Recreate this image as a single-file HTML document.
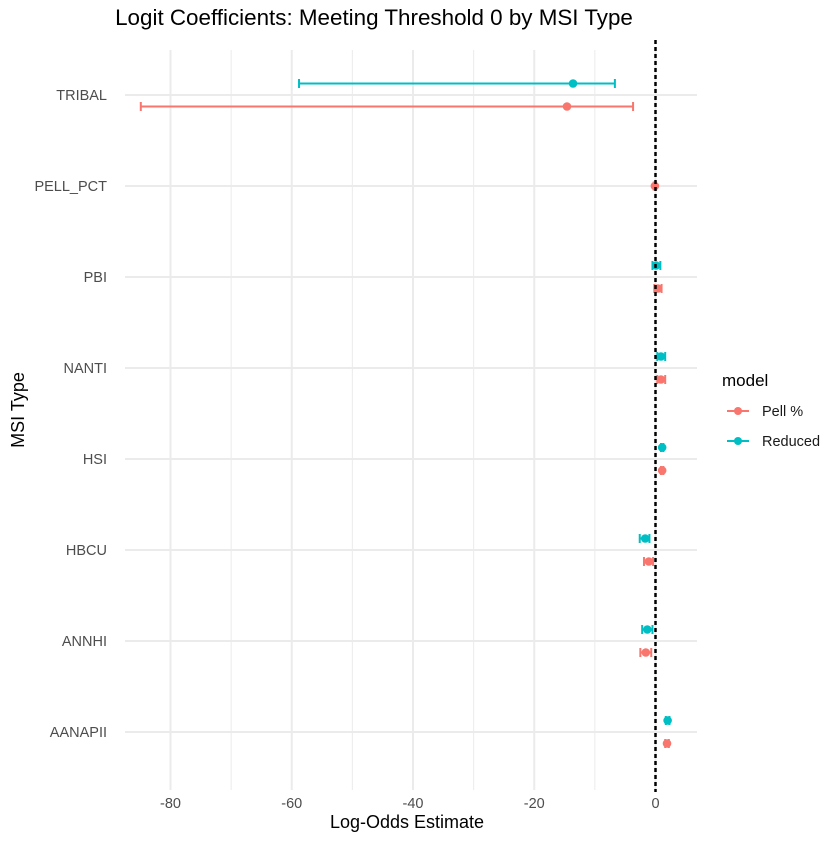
<!DOCTYPE html>
<html><head><meta charset="utf-8"><style>body{margin:0;background:#fff}svg{font-family:"Liberation Sans",sans-serif}</style></head>
<body>
<svg id="c" width="840" height="840">
<rect width="840" height="840" fill="#fff"/>
<g id="grid"></g><g id="marks"></g><g id="axes"></g>
<text x="374" y="25" font-size="22.4" text-anchor="middle" fill="#000">Logit Coefficients: Meeting Threshold 0 by MSI Type</text>
<text x="407" y="828" font-size="18" text-anchor="middle" fill="#000">Log-Odds Estimate</text>
<text transform="translate(24,410) rotate(-90)" font-size="18" text-anchor="middle" fill="#000">MSI Type</text>
<g>
<text x="722" y="386" font-size="17" fill="#000">model</text>
<g><line x1="727" x2="749" y1="411" y2="411" stroke="#F8766D" stroke-width="2"/><circle cx="738" cy="411" r="4" fill="#F8766D"/><text x="762" y="416" font-size="14.5" fill="#1a1a1a">Pell %</text></g>
<g><line x1="727" x2="749" y1="441" y2="441" stroke="#00BFC4" stroke-width="2"/><circle cx="738" cy="441" r="4" fill="#00BFC4"/><text x="762" y="446" font-size="14.5" fill="#1a1a1a">Reduced</text></g>
</g>
</svg>
<script>
const categories=["TRIBAL","PELL_PCT","PBI","NANTI","HSI","HBCU","ANNHI","AANAPII"];
const pellEst=[-14.6,-0.1,0.4,0.9,1.1,-1.1,-1.6,1.9];
const pellLo=[-84.9,-0.3,-0.2,0.3,0.9,-1.9,-2.5,1.6];
const pellHi=[-3.7,0.1,1.0,1.6,1.3,-0.4,-0.7,2.2];
const redEst=[-13.6,null,0.1,0.9,1.1,-1.7,-1.35,2.0];
const redLo=[-58.8,null,-0.5,0.3,0.9,-2.6,-2.2,1.7];
const redHi=[-6.7,null,0.8,1.6,1.3,-1.0,-0.5,2.3];
const xTicks=[-80,-60,-40,-20,0];
const xMinor=[-70,-50,-30,-10];
const NS="http://www.w3.org/2000/svg";
const X=v=>655.5+v*6.0625;
const Y=i=>95+i*91;
const L=125,R=697,T=50,B=790;
function mk(t,a,p){const e=document.createElementNS(NS,t);for(const k in a)e.setAttribute(k,a[k]);p.appendChild(e);return e;}
const g=document.getElementById('grid'),m=document.getElementById('marks'),ax=document.getElementById('axes');
xMinor.forEach(v=>{const l=mk('line',{x1:X(v),x2:X(v),y1:T,y2:B,stroke:'#ebebeb','stroke-width':1},g);

});
xTicks.forEach(v=>{const l=mk('line',{x1:X(v),x2:X(v),y1:T,y2:B,stroke:'#ebebeb','stroke-width':2},g);


const t=mk('text',{x:X(v),y:808,'font-size':14.5,'text-anchor':'middle',fill:'#4d4d4d'},ax);t.textContent=v;

});
categories.forEach((c,i)=>{const l=mk('line',{x1:L,x2:R,y1:Y(i),y2:Y(i),stroke:'#ebebeb','stroke-width':2},g);


const t=mk('text',{x:107,y:Y(i)+5,'font-size':14.5,'text-anchor':'end',fill:'#4d4d4d'},ax);t.textContent=c;

});
function series(est,lo,hi,col,name,off){est.forEach((v,i)=>{if(v===null)return;
const y=Y(i)+(redEst[i]===null?0:off);
const gr=mk('g',{},m);


mk('line',{x1:X(lo[i]),x2:X(hi[i]),y1:y,y2:y,stroke:col,'stroke-width':2},gr);
[lo[i],hi[i]].forEach(e=>mk('line',{x1:X(e),x2:X(e),y1:y-4.5,y2:y+4.5,stroke:col,'stroke-width':2},gr));
mk('circle',{cx:X(v),cy:y,r:4.3,fill:col},gr);});}
series(pellEst,pellLo,pellHi,'#F8766D','pell-point',11.5);
series(redEst,redLo,redHi,'#00BFC4','reduced-point',-11.5);
const z=mk('line',{x1:X(0),x2:X(0),y1:T-10,y2:B+2,stroke:'#000','stroke-width':2.5,'stroke-dasharray':'4,3'},m);


</script>
</body></html>
